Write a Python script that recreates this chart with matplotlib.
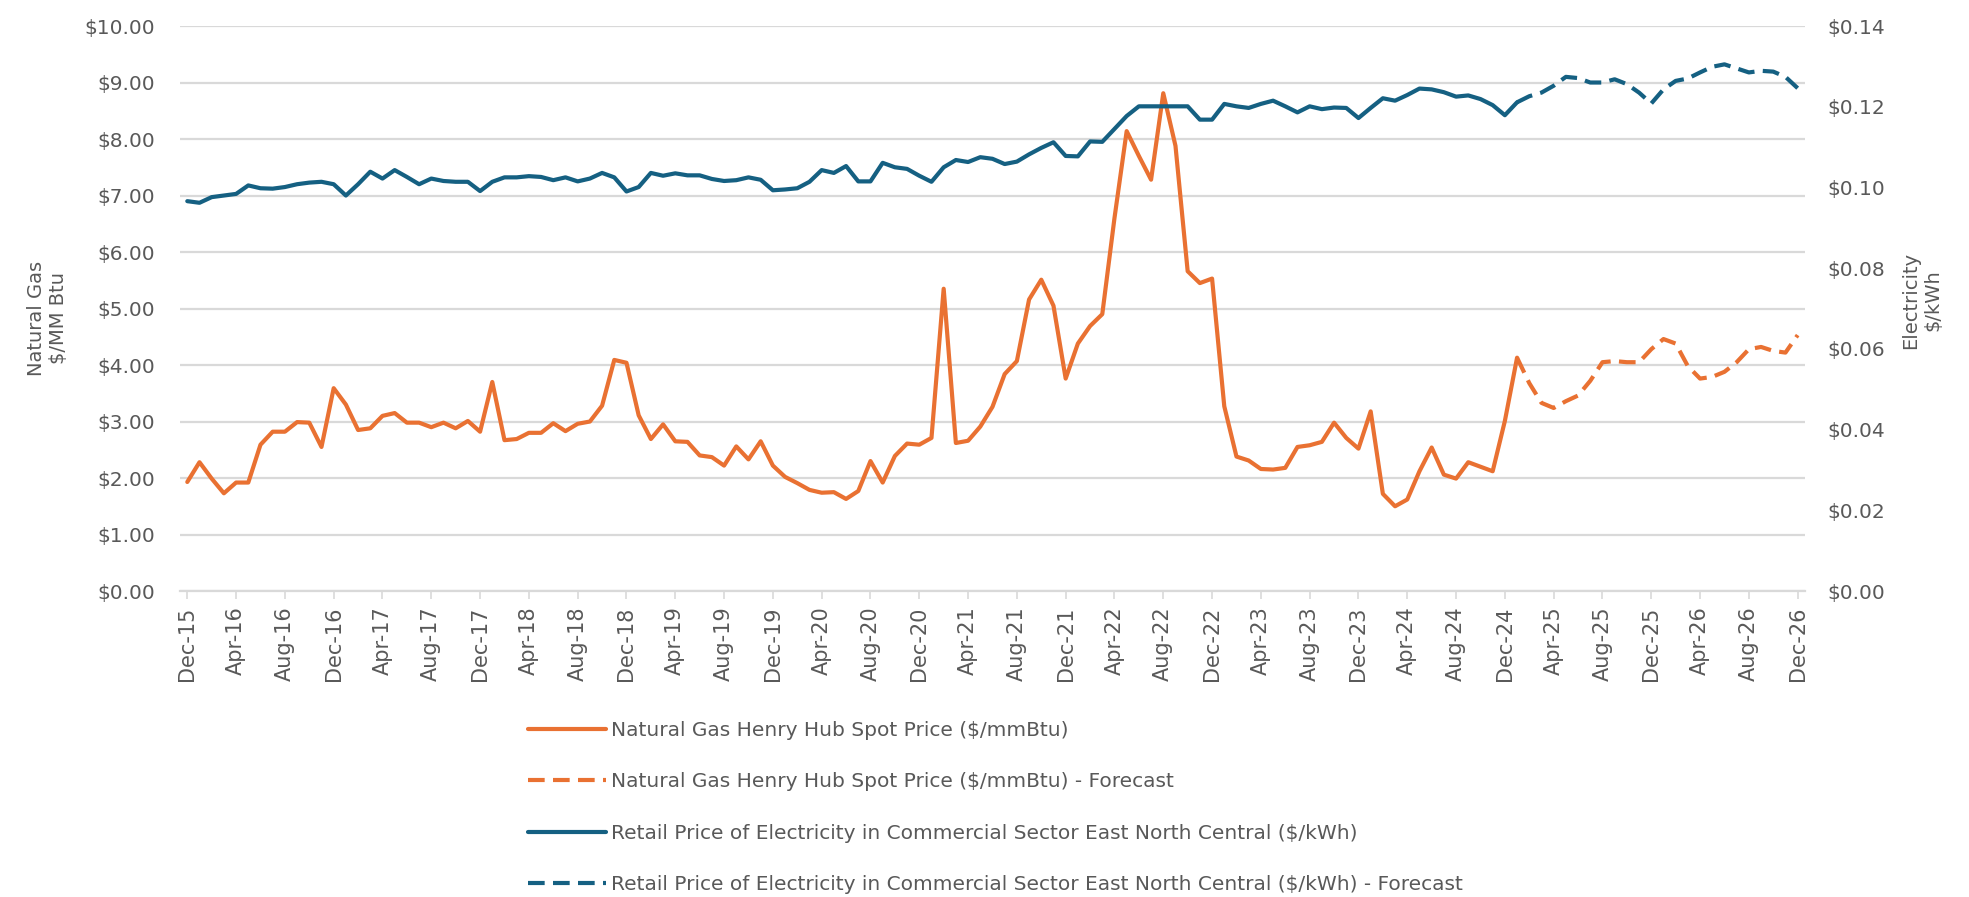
import numpy as np
import pandas as pd
import matplotlib
matplotlib.use("Agg")
from matplotlib import pyplot as plt
from matplotlib.ticker import FuncFormatter, FixedLocator

# monthly axis, Dec-2015 .. Dec-2026
months = pd.date_range("2015-12-01", periods=133, freq="MS")

# Henry Hub spot price, $/mmBtu (Dec-15 .. Jan-25)
gas_actual = [
    1.93,
    2.28, 1.99, 1.73, 1.92, 1.92, 2.59, 2.82, 2.82, 2.99, 2.98, 2.55, 3.59,
    3.30, 2.85, 2.88, 3.10, 3.15, 2.98, 2.98, 2.90, 2.98, 2.88, 3.01, 2.82,
    3.70, 2.67, 2.69, 2.80, 2.80, 2.97, 2.83, 2.96, 3.00, 3.28, 4.09, 4.04,
    3.11, 2.69, 2.95, 2.65, 2.64, 2.40, 2.37, 2.22, 2.56, 2.33, 2.65, 2.22,
    2.02, 1.91, 1.79, 1.74, 1.75, 1.63, 1.77, 2.30, 1.92, 2.39, 2.61, 2.59,
    2.71, 5.35, 2.62, 2.66, 2.91, 3.26, 3.84, 4.07, 5.16, 5.51, 5.05, 3.76,
    4.38, 4.69, 4.90, 6.60, 8.14, 7.70, 7.28, 8.81, 7.88, 5.66, 5.45, 5.53,
    3.27, 2.38, 2.31, 2.16, 2.15, 2.18, 2.55, 2.58, 2.64, 2.98, 2.71, 2.52,
    3.18, 1.72, 1.50, 1.62, 2.12, 2.54, 2.06, 1.99, 2.28, 2.20, 2.12, 3.01,
    4.13,
]
# forecast, Feb-25 .. Dec-26
gas_forecast = [
    3.68, 3.33, 3.24, 3.36, 3.46, 3.72, 4.05, 4.07, 4.05, 4.05, 4.28,
    4.46, 4.38, 3.98, 3.76, 3.79, 3.88, 4.05, 4.28, 4.32, 4.25, 4.22, 4.53,
]

# commercial retail electricity, East North Central, $/kWh (Dec-15 .. Jan-25)
elec_actual = [
    0.0966,
    0.0962, 0.0976, 0.0980, 0.0984, 0.1005, 0.0998, 0.0997, 0.1001, 0.1008, 0.1012, 0.1014, 0.1008,
    0.0980, 0.1008, 0.1039, 0.1022, 0.1043, 0.1026, 0.1008, 0.1022, 0.1016, 0.1014, 0.1014, 0.0991,
    0.1014, 0.1025, 0.1025, 0.1028, 0.1026, 0.1018, 0.1025, 0.1015, 0.1022, 0.1036, 0.1025, 0.0990,
    0.1001, 0.1036, 0.1029, 0.1035, 0.1030, 0.1030, 0.1021, 0.1016, 0.1018, 0.1025, 0.1019, 0.0993,
    0.0995, 0.0998, 0.1014, 0.1043, 0.1036, 0.1053, 0.1015, 0.1015, 0.1061, 0.1050, 0.1046, 0.1029,
    0.1014, 0.1050, 0.1068, 0.1063, 0.1075, 0.1071, 0.1058, 0.1064, 0.1082, 0.1098, 0.1112, 0.1078,
    0.1077, 0.1114, 0.1113, 0.1145, 0.1177, 0.1201, 0.1201, 0.1201, 0.1201, 0.1201, 0.1168, 0.1168,
    0.1207, 0.1201, 0.1197, 0.1207, 0.1215, 0.1201, 0.1186, 0.1201, 0.1194, 0.1198, 0.1197, 0.1172,
    0.1197, 0.1221, 0.1215, 0.1229, 0.1245, 0.1243, 0.1236, 0.1225, 0.1228, 0.1219, 0.1204, 0.1179,
    0.1211,
]
elec_forecast = [
    0.1226, 0.1235, 0.1252, 0.1274, 0.1271, 0.1260, 0.1260, 0.1268, 0.1256, 0.1235, 0.1208,
    0.1243, 0.1264, 0.1270, 0.1285, 0.1299, 0.1305, 0.1295, 0.1285, 0.1289, 0.1287, 0.1274, 0.1246,
]

labels = [
    "Natural Gas Henry Hub Spot Price ($/mmBtu)",
    "Natural Gas Henry Hub Spot Price ($/mmBtu) - Forecast",
    "Retail Price of Electricity in Commercial Sector East North Central ($/kWh)",
    "Retail Price of Electricity in Commercial Sector East North Central ($/kWh) - Forecast",
]

ORANGE = "#E97132"
BLUE = "#156082"
GRID = "#D9D9D9"
TXT = "#595959"

plt.rcParams["font.family"] = ["DejaVu Sans"]

x = np.arange(len(months))
n_act = len(gas_actual)
x_act = x[:n_act]
x_fc = x[n_act - 1:]

fig = plt.figure(figsize=(19.69, 8.97), dpi=100)
ax = fig.add_axes([0.0914, 0.3411, 0.8253, 0.6299])
ax2 = ax.twinx()

lw = 3.0
dash = (0, (4, 2))
l1, = ax.plot(x_act, gas_actual, color=ORANGE, lw=lw, solid_capstyle="round",
              solid_joinstyle="round", zorder=3)
l2, = ax.plot(x_fc, [gas_actual[-1]] + gas_forecast, color=ORANGE, lw=lw,
              linestyle=dash, zorder=3)
l3, = ax2.plot(x_act, elec_actual, color=BLUE, lw=lw, solid_capstyle="round",
               solid_joinstyle="round", zorder=3)
l4, = ax2.plot(x_fc, [elec_actual[-1]] + elec_forecast, color=BLUE, lw=lw,
               linestyle=dash, zorder=3)

ax.set_xlim(-0.6, len(months) - 0.4)
ax.set_ylim(0, 10)
ax2.set_ylim(0, 0.14)
ax.set_yticks(np.arange(0, 10.01, 1))
ax2.set_yticks(np.arange(0, 0.1401, 0.02))
ax.yaxis.set_major_formatter(FuncFormatter(lambda v, p: f"${v:.2f}"))
ax2.yaxis.set_major_formatter(FuncFormatter(lambda v, p: f"${v:.2f}"))

tick_idx = x[::4]
ax.xaxis.set_major_locator(FixedLocator(tick_idx))
ax.set_xticklabels([months[i].strftime("%b-%y") for i in tick_idx], rotation=90)

ax.grid(axis="y", color=GRID, lw=1.6)
ax.set_axisbelow(True)
for a in (ax, ax2):
    for s in a.spines.values():
        s.set_visible(False)
ax.spines["bottom"].set_visible(True)
ax.spines["bottom"].set_color(GRID)
ax.spines["bottom"].set_linewidth(1.6)

ax.tick_params(axis="x", colors=GRID, length=6, width=1.2, pad=5,
               labelsize=15, labelcolor=TXT)
ax.tick_params(axis="y", length=0, pad=18, labelsize=14.5, labelcolor=TXT)
ax2.tick_params(axis="y", length=0, pad=16, labelsize=14.5, labelcolor=TXT)

fig.text(0.024, 0.645, "Natural Gas\n$/MM Btu", rotation=90, ha="center",
         va="center", fontsize=14, color=TXT, multialignment="center")
fig.text(0.976, 0.665, "Electricity\n$/kWh", rotation=90, ha="center",
         va="center", fontsize=14, color=TXT, multialignment="center")

fig.legend([l1, l2, l3, l4], labels, loc="upper left",
           bbox_to_anchor=(0.264, 0.205), bbox_transform=fig.transFigure,
           frameon=False, fontsize=14.5, labelcolor=TXT, handlelength=3.9,
           handletextpad=0.25, labelspacing=1.6, borderaxespad=0)

fig.savefig("out.png", dpi=100, facecolor="white")
